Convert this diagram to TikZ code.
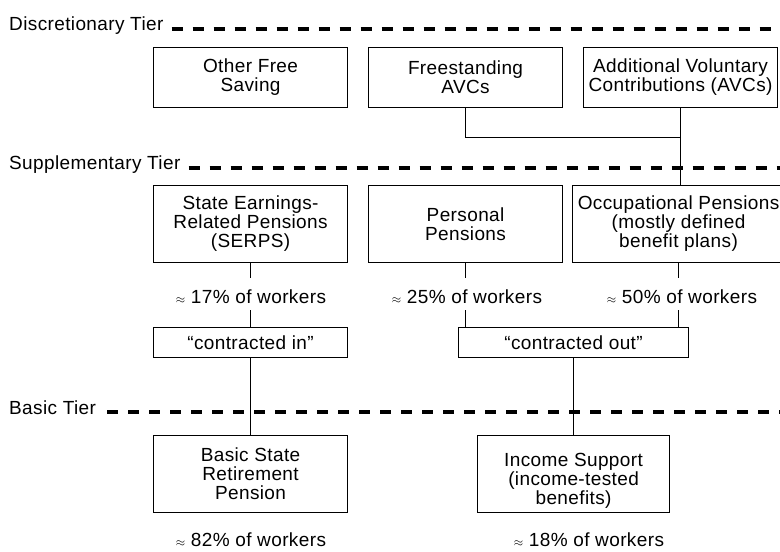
\documentclass[tikz,border=0pt]{standalone}
\usepackage{fontspec}
\setmainfont{Liberation Sans}[LetterSpace=2]
\newcommand\apx{{\fontsize{13}{13}\selectfont$\approx$}}
\begin{document}
\begin{tikzpicture}[x=1pt,y=-1pt,
  every node/.style={font=\fontsize{19}{19}\selectfont, inner sep=0pt},
  box/.style={draw, line width=1.1pt, rectangle, align=center, anchor=north west},
  link/.style={line width=1.1pt},
  tier/.style={anchor=base west},
  tierline/.style={line width=4pt, dash pattern=on 11pt off 10pt},
  share/.style={anchor=base, text height=25pt, text depth=7pt}]
\useasboundingbox (0,0) rectangle (780,552);

% tier headings with their dashed rules
\node[tier] (dtier) at (9,30) {Discretionary Tier};
\node[tier] (stier) at (9,169) {Supplementary Tier};
\node[tier] (btier) at (9,414) {Basic Tier};
\draw[tierline] ([shift={(8pt,1.5pt)}]dtier.base east) -- ++(700,0);
\draw[tierline] ([shift={(8pt,1.5pt)}]stier.base east) -- ++(700,0);
\draw[tierline] ([shift={(11pt,2.5pt)}]btier.base east) -- ++(750,0);

% discretionary tier
\node[box, minimum width=194, minimum height=60] (ofs) at (153,47) {Other Free\\Saving};
\node[box, minimum width=194, minimum height=60] (fav) at (368,47) {Freestanding\\AVCs};
\node[box, minimum width=194, minimum height=60] (avc) at (583,47) {Additional Voluntary\\Contributions (AVCs)};

% supplementary tier
\node[box, minimum width=194, minimum height=77] (serps) at (153,185) {State Earnings-\\Related Pensions\\(SERPS)};
\node[box, minimum width=194, minimum height=77] (pp) at (368,185) {Personal\\Pensions};
\node[box, minimum width=212, minimum height=77] (occ) at (572,185) {Occupational Pensions\\(mostly defined\\benefit plans)};

\node[share] (l17) at (251,303) {\apx\ 17\% of workers};
\node[share] (l25) at (467,303) {\apx\ 25\% of workers};
\node[share] (l50) at (682,303) {\apx\ 50\% of workers};

\node[box, minimum width=194, minimum height=30] (cin) at (153,327) {“contracted in”};
\node[box, minimum width=230, minimum height=30] (cout) at (458,327) {“contracted out”};

% basic tier
\node[box, minimum width=194, minimum height=77] (bsrp) at (153,435) {Basic State\\Retirement\\Pension};
\node[box, minimum width=192, minimum height=77] (isup) at (477,435) {};
\node[align=center] (isupt) at ([yshift=-7pt]isup.center) {Income Support\\(income-tested\\benefits)};

\node[anchor=base] (l82) at (251,546) {\apx\ 82\% of workers};
\node[anchor=base] (l18) at (589,546) {\apx\ 18\% of workers};

% connectors
\draw[link] (fav.south) -- ++(0,29) -| (avc.south);
\draw[link] (avc.south) -- (avc.south |- occ.north);

\draw[link] (serps.south) -- (serps.south |- l17.north);
\draw[link] (serps.south |- l17.south) -- (serps.south |- cin.north);
\draw[link] (pp.south) -- (pp.south |- l25.north);
\draw[link] (pp.south |- l25.south) -- (pp.south |- cout.north);
\draw[link] (occ.south) -- (occ.south |- l50.north);
\draw[link] (occ.south |- l50.south) -- (occ.south |- cout.north);

\draw[link] (cin.south) -- (bsrp.north);
\draw[link] (cout.south) -- (isup.north);
\end{tikzpicture}
\end{document}
